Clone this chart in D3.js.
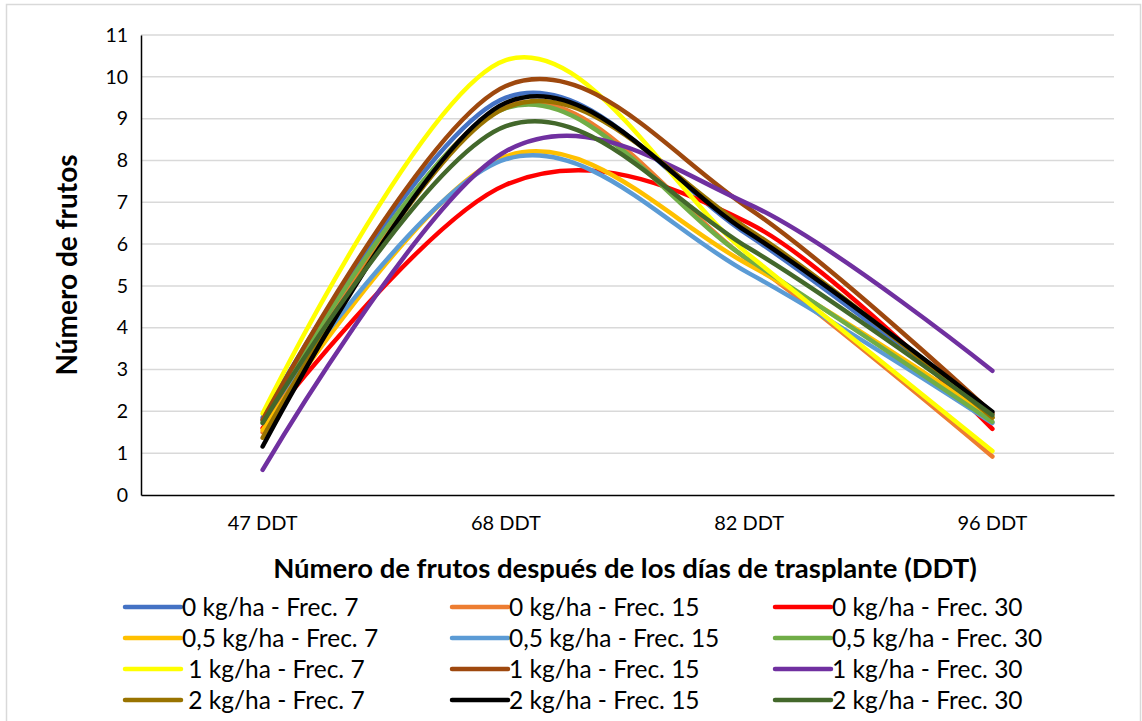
<!DOCTYPE html>
<html>
<head>
<meta charset="utf-8">
<script src="https://cdn.jsdelivr.net/npm/d3@7"></script>
<style>
  html, body { margin: 0; padding: 0; background: #fff; }
  svg { display: block; font-family: Lato, "Open Sans", sans-serif; }
</style>
</head>
<body>
<svg id="chart" width="1142" height="721"></svg>
<script>
// Fruit counts per treatment at each sampling date
const categories = ["47 DDT", "68 DDT", "82 DDT", "96 DDT"];
const seriesNames = [
  "0 kg/ha - Frec. 7", "0 kg/ha - Frec. 15", "0 kg/ha - Frec. 30",
  "0,5 kg/ha - Frec. 7", "0,5 kg/ha - Frec. 15", "0,5 kg/ha - Frec. 30",
  " 1 kg/ha - Frec. 7", "1 kg/ha - Frec. 15", "1 kg/ha - Frec. 30",
  " 2 kg/ha - Frec. 7", "2 kg/ha - Frec. 15", "2 kg/ha - Frec. 30"
];
const s0F7   = [1.85, 9.50, 6.20, 1.85];
const s0F15  = [1.50, 9.30, 5.60, 0.92];
const s0F30  = [1.60, 7.42, 6.50, 1.58];
const s05F7  = [1.55, 8.10, 5.50, 1.85];
const s05F15 = [1.80, 8.03, 5.30, 1.72];
const s05F30 = [1.75, 9.25, 5.62, 1.75];
const s1F7   = [1.95, 10.40, 5.74, 1.05];
const s1F15  = [1.80, 9.78, 6.85, 1.95];
const s1F30  = [0.60, 8.22, 6.95, 2.97];
const s2F7   = [1.37, 9.26, 6.34, 1.85];
const s2F15  = [1.16, 9.38, 6.26, 1.99];
const s2F30  = [1.72, 8.82, 5.90, 1.91];
const seriesValues = [s0F7, s0F15, s0F30, s05F7, s05F15, s05F30, s1F7, s1F15, s1F30, s2F7, s2F15, s2F30];
const colors = ["#4472C4", "#ED7D31", "#FF0000", "#FFC000", "#5B9BD5", "#70AD47",
                "#FFFF00", "#9E480E", "#7030A0", "#997300", "#000000", "#43682B"];
const yTicks = [0, 1, 2, 3, 4, 5, 6, 7, 8, 9, 10, 11];

const svg = d3.select("#chart");

// Outer chart border
svg.append("rect")
  .attr("x", 6.5).attr("y", 4.5)
  .attr("width", 1134).attr("height", 730)
  .attr("fill", "none").attr("stroke", "#d9d9d9").attr("stroke-width", 1.5);

const plot = { left: 141, right: 1114, top: 35, bottom: 495 };

const x = d3.scaleBand().domain(categories).range([plot.left, plot.right]).padding(0);
const y = d3.scaleLinear().domain([0, 11]).range([plot.bottom, plot.top]);

// Horizontal gridlines
svg.append("g")
  .selectAll("line")
  .data(yTicks.filter(d => d > 0))
  .join("line")
  .attr("x1", plot.left).attr("x2", plot.right)
  .attr("y1", d => y(d)).attr("y2", d => y(d))
  .attr("stroke", "#d9d9d9").attr("stroke-width", 1.5);

// Y axis
const yAxis = svg.append("g")
  .attr("transform", `translate(${plot.left},0)`)
  .call(d3.axisLeft(y).tickValues(yTicks).tickSize(0).tickPadding(13));
yAxis.select(".domain").attr("stroke", "#000").attr("stroke-width", 1.5);
yAxis.selectAll("text").attr("font-size", 19.5).attr("fill", "#000")
  .attr("font-family", "Lato, sans-serif");

// X axis
const xAxis = svg.append("g")
  .attr("transform", `translate(0,${plot.bottom})`)
  .call(d3.axisBottom(x).tickSize(0).tickPadding(21));
xAxis.select(".domain").attr("stroke", "#000").attr("stroke-width", 1.5);
xAxis.selectAll("text").attr("font-size", 20).attr("fill", "#000")
  .attr("font-family", "Lato, sans-serif");

// Axis titles
svg.append("text")
  .attr("x", 625).attr("y", 578)
  .attr("text-anchor", "middle")
  .attr("font-size", 27.5).attr("font-weight", "bold")
  .text("Número de frutos después de los días de trasplante (DDT)");

svg.append("text")
  .attr("transform", "translate(77,265) rotate(-90)")
  .attr("text-anchor", "middle")
  .attr("font-size", 28).attr("font-weight", "bold")
  .text("Número de frutos");

// Smoothed series lines
const line = d3.line()
  .x((d, i) => x(categories[i]) + x.bandwidth() / 2)
  .y(d => y(d))
  .curve(d3.curveCardinal.tension(0));

svg.append("g")
  .selectAll("path")
  .data(seriesValues)
  .join("path")
  .attr("d", d => line(d))
  .attr("fill", "none")
  .attr("stroke", (d, i) => colors[i])
  .attr("stroke-width", 4.5)
  .attr("stroke-linecap", "round")
  .attr("stroke-linejoin", "round");

// Legend: 3 columns x 4 rows
const legendCols = [125, 452, 775];
const legendRows = [607, 638, 669, 700];
const legend = svg.append("g")
  .selectAll("g")
  .data(seriesNames)
  .join("g")
  .attr("transform", (d, i) => `translate(${legendCols[i % 3]},${legendRows[Math.floor(i / 3)]})`);
legend.append("line")
  .attr("x1", 0).attr("x2", 56).attr("y1", 0).attr("y2", 0)
  .attr("stroke", (d, i) => colors[i])
  .attr("stroke-width", 4.5)
  .attr("stroke-linecap", "round");
legend.append("text")
  .attr("x", 57).attr("y", 0).attr("dy", "0.35em")
  .attr("font-size", 24.5).attr("fill", "#000")
  .attr("xml:space", "preserve")
  .style("white-space", "pre")
  .text(d => d);
</script>
</body>
</html>
